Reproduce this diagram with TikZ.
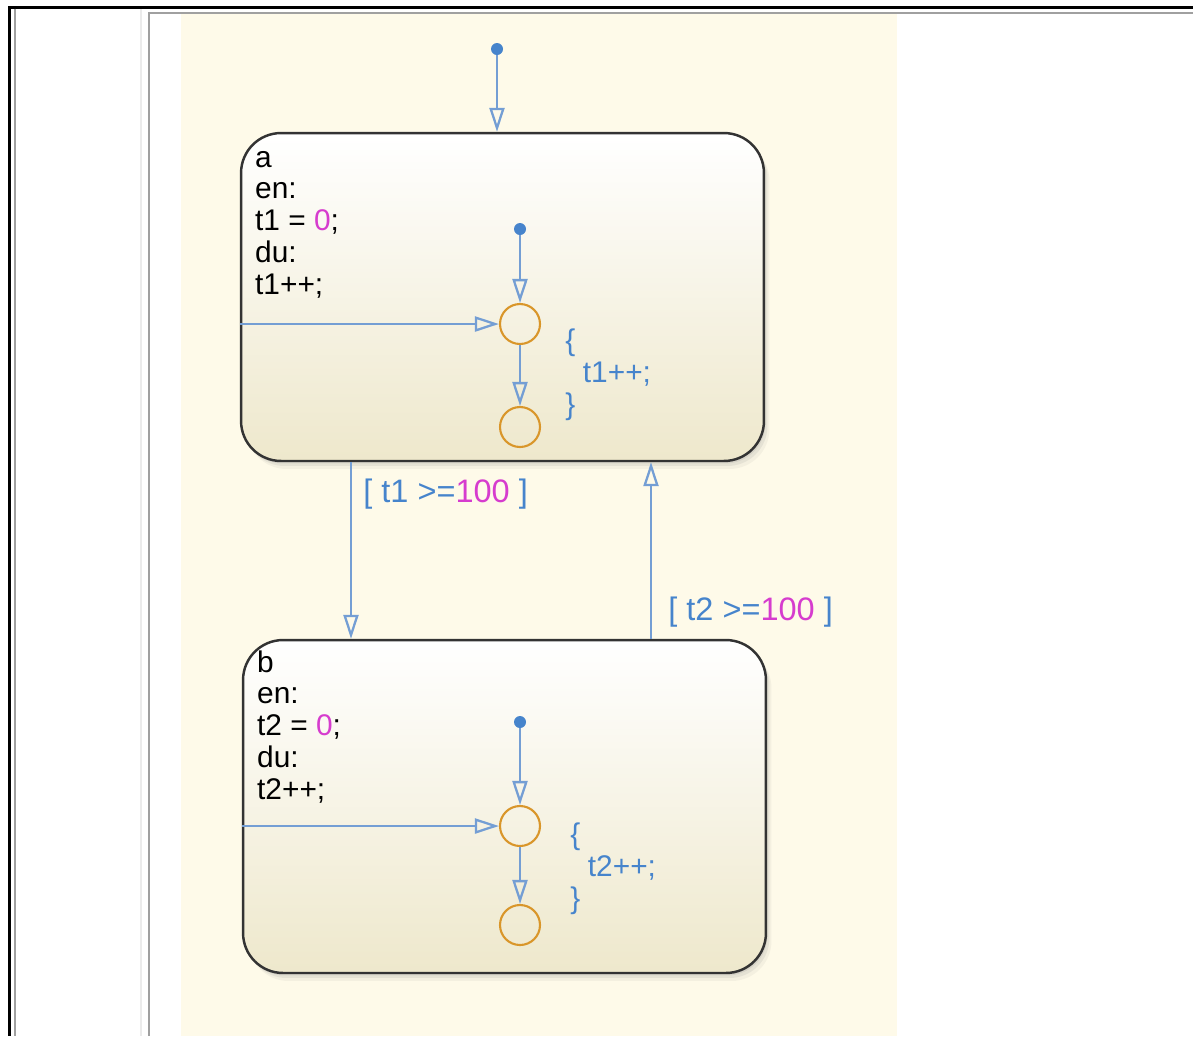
\documentclass[tikz,border=0pt]{standalone}
\usepackage{fontspec}
\setmainfont{Liberation Sans}
\usetikzlibrary{arrows.meta,positioning,shadows}

\definecolor{cream}{RGB}{254,250,233}
\definecolor{stbot}{RGB}{238,232,204}
\definecolor{trblue}{RGB}{116,158,212}
\definecolor{txblue}{RGB}{70,132,204}
\definecolor{juncol}{RGB}{217,150,42}
\definecolor{mag}{RGB}{214,60,206}
\definecolor{frgray}{RGB}{160,160,160}

\begin{document}
\begin{tikzpicture}[x=0.02cm, y=-0.02cm, every node/.style={font=\fontsize{17}{18.1}\selectfont},
 st/.style={draw=black!80, line width=1.4pt, rounded corners=0.8cm, top color=white, bottom color=stbot, minimum width=10.46cm,
   drop shadow={shadow xshift=0.03cm, shadow yshift=-0.05cm, opacity=0.14},
   drop shadow={shadow xshift=0.07cm, shadow yshift=-0.1cm, opacity=0.12},
   drop shadow={shadow xshift=0.11cm, shadow yshift=-0.16cm, opacity=0.08}},
 stxt/.style={anchor=north west, inner sep=0, align=left},
 junc/.style={circle, draw=juncol, line width=1.2pt, minimum size=0.8cm, inner sep=0},
 dot/.style={circle, fill=txblue, minimum size=0.24cm, inner sep=0},
 tr/.style={draw=trblue, line width=1.3pt, -{Triangle[open, length=0.48cm, width=0.3cm]}},
 guard/.style={anchor=base west, inner sep=0, text=txblue, font=\fontsize{18.5}{20}\selectfont}]
\useasboundingbox (0,0) rectangle (1193,1036);
% page frame
\fill[white] (0,0) rectangle (1193,1036);
\fill[cream] (181,14) rectangle (897,1036);
\draw[black, line width=1.3pt] (8,7.6) -- (1193,7.6);
\draw[black, line width=1.3pt] (9.5,7) -- (9.5,1036);
\draw[frgray, line width=1pt] (14.8,8.5) -- (14.8,1036);
\draw[black!8, line width=1pt] (141,9) -- (141,1036);
\draw[frgray, line width=1pt] (149,1036) -- (149,13) -- (1193,13);

% states
\node[st, minimum height=6.56cm] (a) at (502.5,297) {};
\node[st, minimum height=6.66cm] (b) at (504.5,806.5) {};
\node[stxt] (atxt) at ([shift={(15,12.6)}]a.north west) {\strut a\\en:\\t1 = \textcolor{mag}{0};\\du:\\t1++;};
\node[stxt] (btxt) at ([shift={(15,10.6)}]b.north west) {\strut b\\en:\\t2 = \textcolor{mag}{0};\\du:\\t2++;};

% default transition
\node[dot] (top) at (497,49) {};
\draw[tr] (top) -- (top |- a.north);

% inside a
\node[dot] (ad) at (520,229) {};
\node[junc] (a1) at (520,324) {};
\node[junc] (a2) at (520,427) {};
\draw[tr] (ad) -- (a1);
\draw[tr] (a1) -- (a2);
\draw[tr] (a1 -| a.west) -- (a1);
\node[stxt, text=txblue] (aact) at (565,328) {\strut\{\\\hspace*{10pt}t1++;\\\}};

% inside b
\node[dot] (bd) at (520,722) {};
\node[junc] (b1) at (520,826) {};
\node[junc] (b2) at (520,925) {};
\draw[tr] (bd) -- (b1);
\draw[tr] (b1) -- (b2);
\draw[tr] (b1 -| b.west) -- (b1);
\node[stxt, text=txblue] (bact) at (570,822) {\strut\{\\\hspace*{10pt}t2++;\\\}};

% transitions between states
\coordinate (ab) at (351,0);
\coordinate (ba) at (651,0);
\draw[tr] (ab |- a.south) -- (ab |- b.north);
\draw[tr] (ba |- b.north) -- (ba |- a.south);
\node[guard] (g1) at (363,502) {[ t1 >=\textcolor{mag}{100} ]};
\node[guard] (g2) at (668,620) {[ t2 >=\textcolor{mag}{100} ]};
\end{tikzpicture}
\end{document}
